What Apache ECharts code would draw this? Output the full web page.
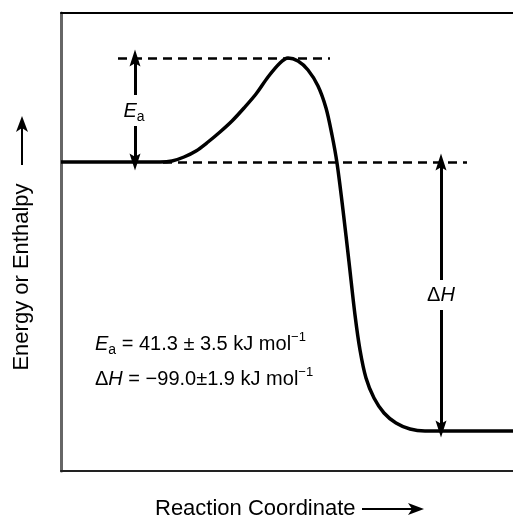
<!DOCTYPE html>
<html>
<head>
<meta charset="utf-8">
<script src="https://cdn.jsdelivr.net/npm/echarts@6/dist/echarts.min.js"></script>
<style>
html,body{margin:0;padding:0;background:#fff;}
#chart{width:513px;height:516px;}
</style>
</head>
<body>
<div id="chart"></div>
<script>
// Reaction coordinate (arbitrary units) and energy (arbitrary units)
const reactionCoord = [0, 60, 99, 111, 123, 135, 147, 159, 171, 183, 195, 207, 219, 227, 237, 247, 257, 265, 271, 276, 282, 288, 294, 299, 305, 313, 323, 335, 349, 364, 400, 472];
const energy        = [309, 309, 309, 310, 314, 320, 329, 339, 350, 363, 377, 394, 408, 413, 410, 401, 385, 363, 336, 308, 261, 209, 156, 121, 93, 73, 58, 48, 42, 40, 40, 40];

const reactantLevel = 309;
const transitionLevel = 413;
const productLevel = 40;

// Dashed reference lines: [xStart, xEnd]
const tsDashX = [57, 269];
const reactDashX = [102, 406];
// Double arrows: x position, gap around the label (energy values)
const eaArrowX = 74;
const eaGap = [376, 345];
const dhArrowX = 380;
const dhGap = [191, 161];

const xTitle = 'Reaction Coordinate';
const yTitle = 'Energy or Enthalpy';
const eaText = '{i|E}{sub|a}{n| = 41.3 ± 3.5 kJ mol}{sup|−1}';
const dhText = '{n|Δ}{i|H}{n| = −99.0±1.9 kJ mol}{sup|−1}';

const FONT = "'Liberation Sans', Arial, Helvetica, sans-serif";

function rich(fs) {
  return {
    n: {fontSize: fs, fontFamily: FONT, color: '#000', lineHeight: fs + 6},
    i: {fontSize: fs, fontFamily: FONT, fontStyle: 'italic', color: '#000', lineHeight: fs + 6},
    sub: {fontSize: Math.round(fs * 0.72), fontFamily: FONT, color: '#000', lineHeight: Math.round(fs * 0.72), verticalAlign: 'bottom'},
    sup: {fontSize: Math.round(fs * 0.65), fontFamily: FONT, color: '#000', lineHeight: Math.round(fs * 0.65), verticalAlign: 'top'}
  };
}

const arrowHead = 'path://M5,0 L10,16 L5,13 L0,16 Z';

const dashStyle = {color: '#000', width: 2.5, type: [9, 6]};
const solidStyle = {color: '#000', width: 3, type: 'solid'};
const hidden = {axisTick: {show: false}, axisLabel: {show: false}, splitLine: {show: false}};

const chart = echarts.init(document.getElementById('chart'), null, {renderer: 'canvas'});

const option = {
  animation: false,
  backgroundColor: '#fff',
  grid: {left: 61, top: 13, right: -20, bottom: 45, show: false, outerBoundsMode: 'none'},
  xAxis: [
    Object.assign({type: 'value', min: 0, max: 472, position: 'bottom',
      axisLine: {show: true, onZero: false, lineStyle: {color: '#222', width: 2}}}, hidden),
    Object.assign({type: 'value', min: 0, max: 472, position: 'top',
      axisLine: {show: true, onZero: false, lineStyle: {color: '#000', width: 2}}}, hidden)
  ],
  yAxis: Object.assign({type: 'value', min: 0, max: 458,
    axisLine: {show: true, onZero: false, lineStyle: {color: '#666', width: 3}}}, hidden),
  series: [
    {
      type: 'line',
      data: reactionCoord.map((x, i) => [x, energy[i]]),
      smooth: 0.3,
      symbol: 'none',
      lineStyle: {color: '#000', width: 3.5},
      z: 5,
      markLine: {
        silent: true,
        animation: false,
        label: {show: false},
        data: [
          [{coord: [tsDashX[0], transitionLevel], symbol: 'none', lineStyle: dashStyle},
           {coord: [tsDashX[1], transitionLevel], symbol: 'none'}],
          [{coord: [reactDashX[0], reactantLevel], symbol: 'none', lineStyle: dashStyle},
           {coord: [reactDashX[1], reactantLevel], symbol: 'none'}],
          [{coord: [eaArrowX, eaGap[0]], symbol: 'none', lineStyle: solidStyle},
           {coord: [eaArrowX, transitionLevel], symbol: arrowHead, symbolSize: [11, 17]}],
          [{coord: [eaArrowX, eaGap[1]], symbol: 'none', lineStyle: solidStyle},
           {coord: [eaArrowX, reactantLevel], symbol: arrowHead, symbolSize: [11, 17]}],
          [{coord: [dhArrowX, dhGap[0]], symbol: 'none', lineStyle: solidStyle},
           {coord: [dhArrowX, reactantLevel], symbol: arrowHead, symbolSize: [11, 17]}],
          [{coord: [dhArrowX, dhGap[1]], symbol: 'none', lineStyle: solidStyle},
           {coord: [dhArrowX, productLevel + 2], symbol: arrowHead, symbolSize: [11, 17]}]
        ]
      }
    }
  ]
};
chart.setOption(option);

const eaLabelPos = chart.convertToPixel({gridIndex: 0}, [eaArrowX, (eaGap[0] + eaGap[1]) / 2]);
const dhLabelPos = chart.convertToPixel({gridIndex: 0}, [dhArrowX, (dhGap[0] + dhGap[1]) / 2]);

chart.setOption({
  graphic: [
    {type: 'text', x: eaLabelPos[0] - 1, y: eaLabelPos[1] + 1, style: {text: '{i|E}{sub|a}', rich: rich(20), align: 'center', verticalAlign: 'middle'}},
    {type: 'text', x: dhLabelPos[0], y: dhLabelPos[1], style: {text: '{n|Δ}{i|H}', rich: rich(20), align: 'center', verticalAlign: 'middle'}},
    {type: 'text', x: 95, y: 344, style: {text: eaText, rich: rich(20), align: 'left', verticalAlign: 'middle'}},
    {type: 'text', x: 95, y: 379, style: {text: dhText, rich: rich(20), align: 'left', verticalAlign: 'middle'}},
    {type: 'text', x: 155, y: 509, style: {text: xTitle, font: '22px ' + FONT, fill: '#000', align: 'left', verticalAlign: 'middle'}},
    {type: 'line', shape: {x1: 362, y1: 509, x2: 414, y2: 509}, style: {stroke: '#000', lineWidth: 2}},
    {type: 'polygon', shape: {points: [[424, 509], [408, 503], [412, 509], [408, 515]]}, style: {fill: '#000'}},
    {type: 'text', x: 22, y: 277, rotation: Math.PI / 2, style: {text: yTitle, font: '22px ' + FONT, fill: '#000', align: 'center', verticalAlign: 'middle'}},
    {type: 'line', shape: {x1: 22, y1: 165, x2: 22, y2: 126}, style: {stroke: '#000', lineWidth: 2}},
    {type: 'polygon', shape: {points: [[22, 116], [16, 132], [22, 128], [28, 132]]}, style: {fill: '#000'}}
  ]
});
</script>
</body>
</html>
